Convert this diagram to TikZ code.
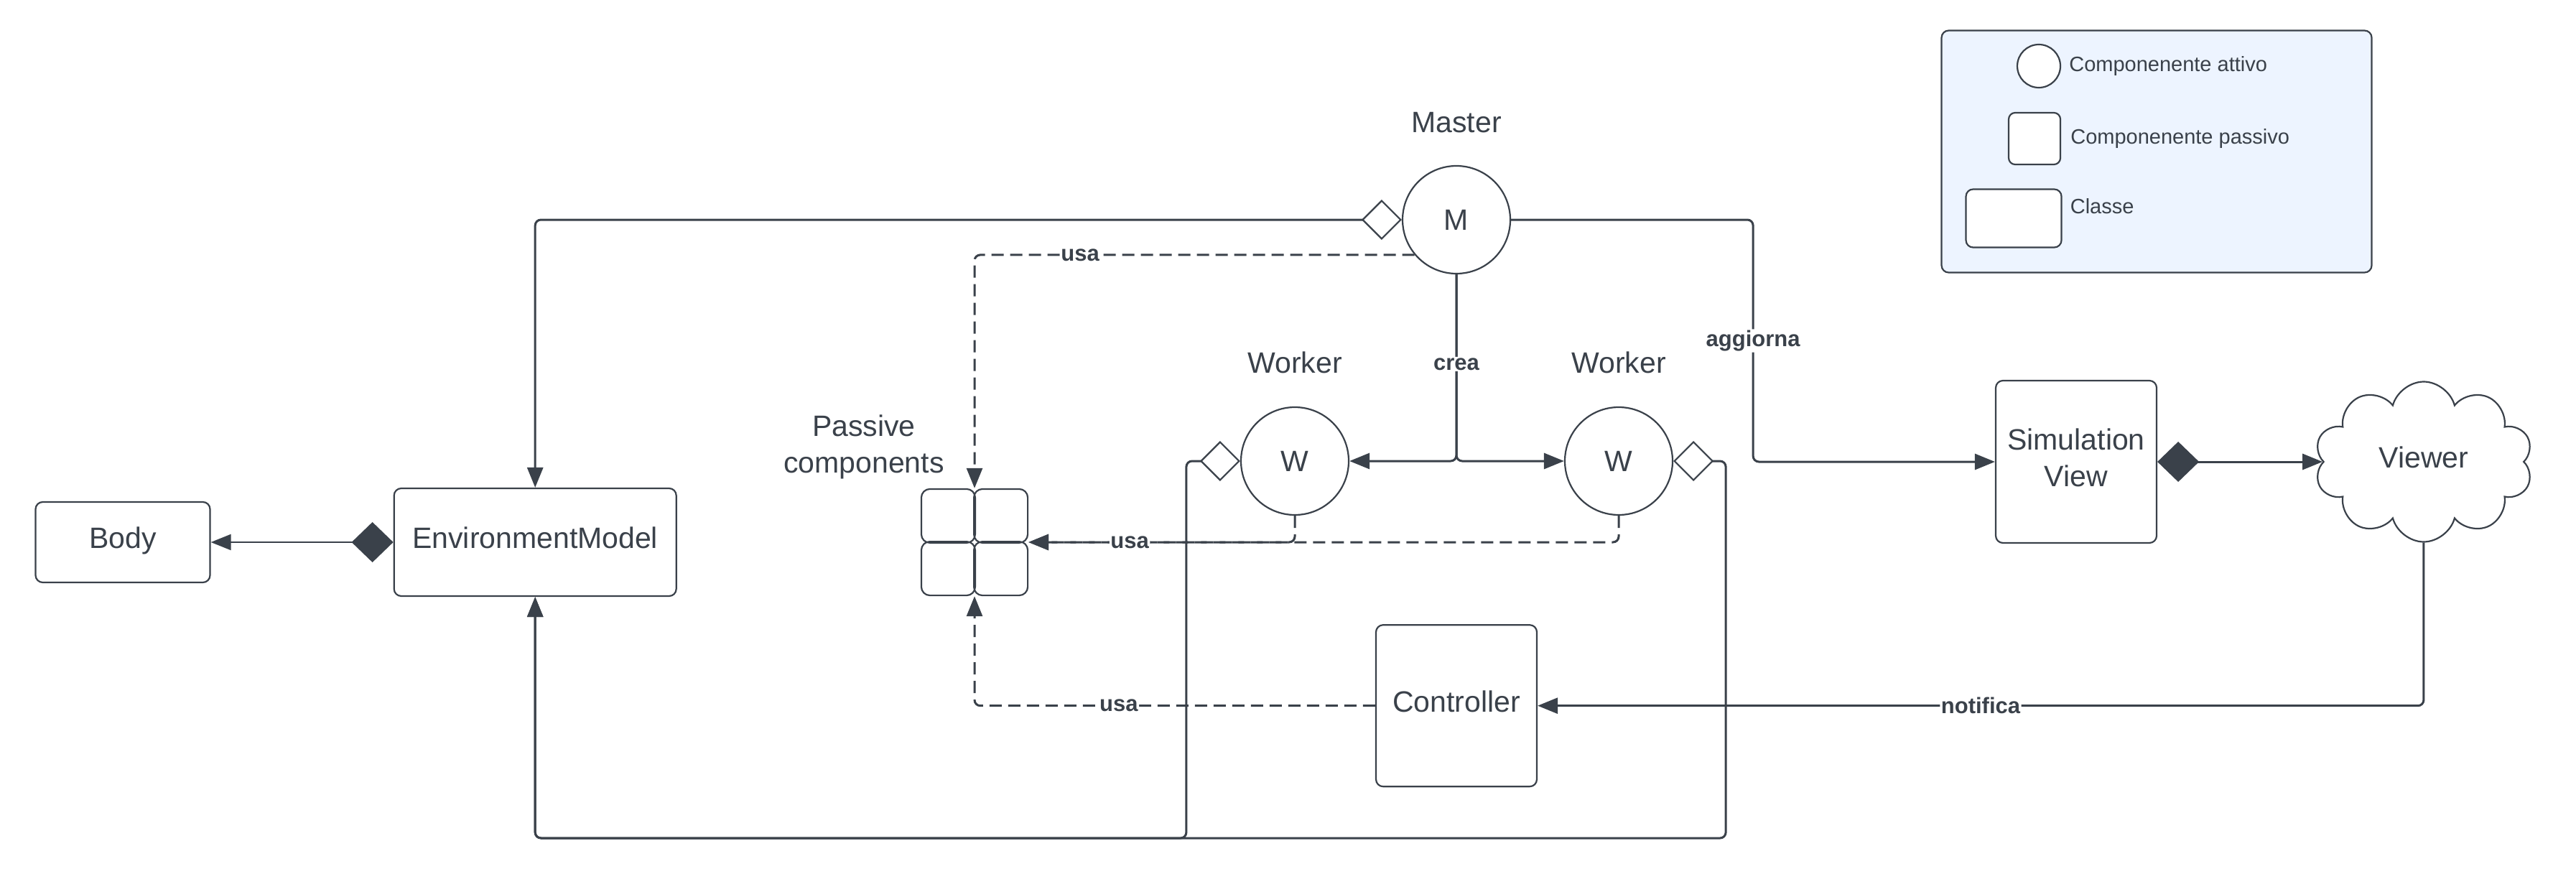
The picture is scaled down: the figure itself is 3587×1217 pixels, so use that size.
\documentclass[tikz,border=0pt]{standalone}
\usepackage{fontspec}
\setmainfont{Liberation Sans}
\usetikzlibrary{positioning, arrows.meta, shapes.symbols}
\definecolor{ink}{HTML}{3A414A}
\definecolor{legendfill}{HTML}{EDF4FF}

\begin{document}
\begin{tikzpicture}[
    x=1pt, y=-1pt, color=ink,
    classbox/.style={draw, rounded corners=10pt, line width=2.2pt, fill=white, minimum width=224pt, font=\fontsize{41}{51}\selectfont, align=center, inner sep=0pt, text depth=12pt},
    active/.style={draw, circle, minimum size=150pt, line width=2.2pt, fill=white, inner sep=0pt, font=\fontsize{41}{51}\selectfont},
    cell/.style={draw, rounded corners=12pt, minimum size=75pt, line width=2.2pt, inner sep=0pt},
    title/.style={font=\fontsize{41}{51}\selectfont, align=center, inner sep=0pt},
    lbl/.style={font=\bfseries\fontsize{31}{36}\selectfont, fill=white, inner sep=1.5pt},
    legtext/.style={font=\fontsize{29}{34}\selectfont, inner sep=0pt},
    link/.style={line width=3pt, rounded corners=8pt, -{Triangle[length=28pt, width=22pt]}},
    uses/.style={link, dash pattern=on 17pt off 9pt},
    agg/.style={link, arrows={Diamond[open, length=56pt, width=56pt, line width=2.2pt]-Triangle[length=28pt, width=22pt]}},
    comp/.style={link, arrows={Diamond[length=58pt, width=56pt]-Triangle[length=28pt, width=22pt]}}
]
\useasboundingbox (0,0) rectangle (3587,1217);

% classes and passive components
\node[classbox, minimum width=243pt, minimum height=112pt] (body) at (171,755) {Body};
\node[classbox, minimum width=393pt, minimum height=150pt, right=254pt of body] (env) {EnvironmentModel};
\node[minimum size=150pt, inner sep=0pt, right=339pt of env] (pc) {};
\foreach \a/\n in {north west/nw, north east/ne, south west/sw, south east/se}
  \node[cell, anchor=\a] (pc-\n) at (pc.\a) {};
\node[title] (pctxt) at (1203,622) {Passive\\components};

% active components
\node[active] (master) at (2028,306) {M};
\node[title, above=45pt of master] (mastertxt) {Master};
\node[active] (w1) at (1803,642) {W};
\node[active] (w2) at (2254,642) {W};
\node[title, above=46pt of w1] (w1txt) {Worker};
\node[title, above=46pt of w2] (w2txt) {Worker};
\node[classbox, minimum height=225pt, below=487pt of master] (ctrl) {Controller};
\node[classbox, minimum height=226pt] (sim) at (2891,643) {Simulation\\View};
\node[draw, cloud, cloud puffs=10, aspect=1.34, minimum width=304pt, minimum height=223pt, line width=2.2pt, inner sep=0pt, text depth=12pt, font=\fontsize{41}{51}\selectfont, right=230pt of sim] (viewer) {Viewer};

% legend
\node[draw, rounded corners=10pt, fill=legendfill, line width=2.2pt, minimum width=599pt, minimum height=337pt] (legend) at (3003,211) {};
\node[draw, circle, fill=white, line width=2.2pt, minimum size=60pt] (legact) at (2839,92) {};
\node[draw, rounded corners=9pt, fill=white, line width=2.2pt, minimum size=72pt] (legpas) at (2833,193) {};
\node[draw, rounded corners=10pt, fill=white, line width=2.2pt, minimum width=133pt, minimum height=81pt] (legcls) at (2804,304) {};
\node[legtext, right=11pt of legact] (legacttxt) {Componenente attivo};
\node[legtext, right=13pt of legpas] (legpastxt) {Componenente passivo};
\node[legtext, right=11pt of legcls, yshift=17pt] (legclstxt) {Classe};

% connectors
\draw[comp, line width=2pt] (env) -- (body);
\draw[agg] (master.west) -| (env.north);
\draw[link] (master.east) -- ++(337,0) |- node[lbl, pos=0.25] (aggiornatxt) {aggiorna} (sim.west);
\draw[link] (master.south) |- (w2.west);
\draw[link] (master.south) |- node[lbl, pos=0.24] (creatxt) {crea} (w1.east);
\draw[uses] (master.220) -| node[lbl, pos=0.38] (usa1) {usa} (pc.north);
\draw[uses] (w2.south) |- (pc.east);
\draw[uses] (w1.south) |- node[lbl, pos=0.81] (usa2) {usa} (pc.east);
\draw[uses] (ctrl.west) -| node[lbl, pos=0.32] (usa3) {usa} (pc.south);
\draw[link] (viewer.south) |- node[lbl, pos=0.75] (notificatxt) {notifica} (ctrl.east);
\draw[comp] (sim.east) -- (viewer.west);
\draw[agg] (w1.west) -- ++(-75,0) -- ++(0,525) -| (env.south);
\draw[agg] (w2.east) -- ++(73,0) -- ++(0,525) -| (env.south);

\end{tikzpicture}
\end{document}
